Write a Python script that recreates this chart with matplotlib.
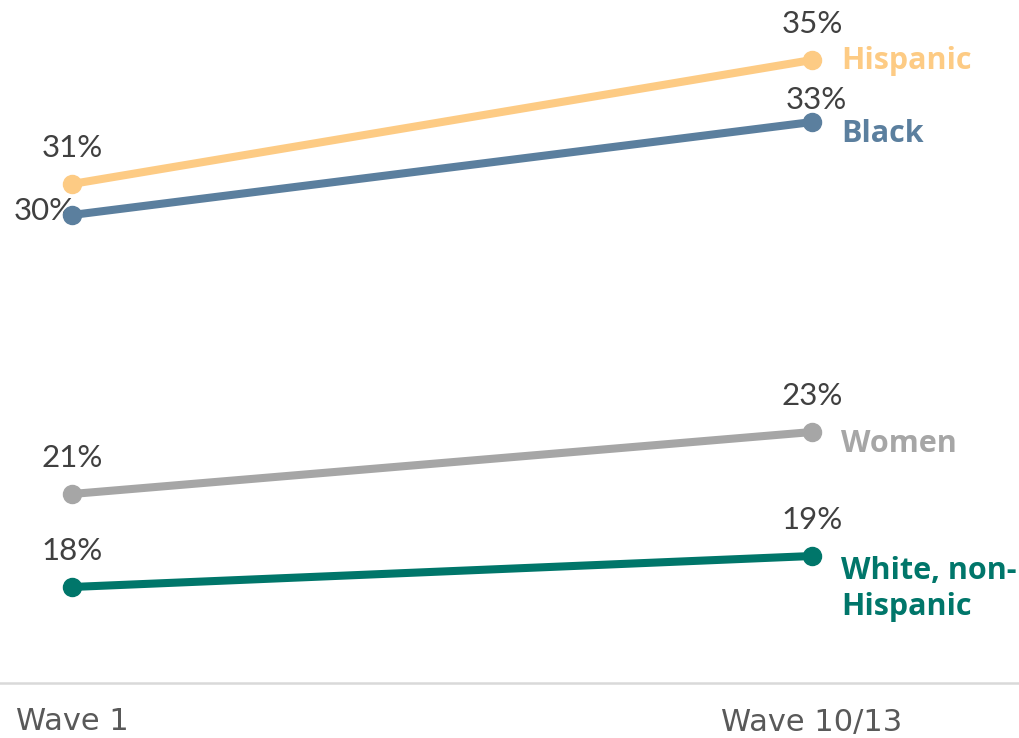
import matplotlib
matplotlib.use("Agg")
import matplotlib.pyplot as plt

# Survey waves and share of each group
waves = ["Wave 1", "Wave 10/13"]
groups = ["Hispanic", "Black", "Women", "White, non-\nHispanic"]
hispanic = [31, 35]
black = [30, 33]
women = [21, 23]
white = [18, 19]
colors = ["#FDCB84", "#5B7F9E", "#A6A6A6", "#00766A"]

series = [hispanic, black, women, white]

fig = plt.figure(figsize=(10.19, 7.38), dpi=100)
ax = fig.add_axes([0, 0, 1, 1])
ax.set_xlim(-72 / 740, (1019 - 72) / 740)
ax.set_ylim(35 - 678 / 31, 35 + 60 / 31)
ax.axis("off")

x = [0, 1]
txt_color = "#404040"
pct_font = dict(family=["Lato", "DejaVu Sans"], fontsize=22.5, color=txt_color)

# vertical nudge (points) of each end label relative to its marker
label_dy = [-0.5, -8.5, -8.5, 0]

for vals, name, col, dy in zip(series, groups, colors, label_dy):
    ax.plot(x, vals, color=col, lw=5.8, solid_capstyle="round", zorder=3)
    ax.plot(x, vals, "o", color=col, ms=13, zorder=4)
    multi = "\n" in name
    ax.annotate(name, (1, vals[1]), xytext=(21, dy), textcoords="offset points",
                ha="left", va="top" if multi else "center",
                fontsize=22, fontweight="bold", color=col,
                family=["Open Sans", "DejaVu Sans"], linespacing=1.25)

# value labels
for vals in series:
    for xi, v in zip(x, vals):
        if v == 30:
            ax.annotate(f"{v}%", (xi, v), xytext=(2, 3), textcoords="offset points",
                        ha="right", va="center", **pct_font)
        elif v == 33:
            ax.annotate(f"{v}%", (xi, v), xytext=(3, 16), textcoords="offset points",
                        ha="center", va="center", **pct_font)
        else:
            ax.annotate(f"{v}%", (xi, v), xytext=(0, 26), textcoords="offset points",
                        ha="center", va="center", **pct_font)

# baseline and wave labels
ax.axhline(35 - (683 - 60) / 31, color="#D9D9D9", lw=1.8, zorder=1)
for xi, w in zip(x, waves):
    ax.text(xi, 35 - (722 - 60) / 31, w, ha="center", va="center", fontsize=22,
            color="#595959", family=["Liberation Sans Narrow", "DejaVu Sans"])

fig.savefig("out.png", dpi=100)
